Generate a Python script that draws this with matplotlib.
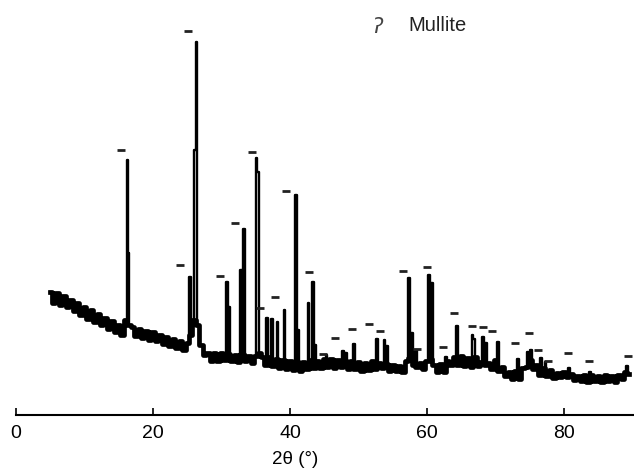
import numpy as np
import matplotlib
matplotlib.use("Agg")
import matplotlib.pyplot as plt

plt.rcParams['font.family'] = ['Liberation Sans', 'DejaVu Sans']

# background scan, 5 to 89.5 deg in 0.5 deg steps (counts)
bg_start = 5.0
bg_step = 0.5
bg_counts = [
    1230, 1120, 1220, 1100, 1190, 1080, 1150, 1040, 1120, 1000,
    1080, 960, 1050, 930, 1010, 900, 970, 860, 940, 830,
    900, 800, 950, 900, 880, 790, 860, 770, 840, 750,
    830, 740, 800, 710, 780, 690, 760, 670, 740, 650,
    720, 800, 950, 900, 700, 600, 620, 540, 620, 540,
    620, 550, 610, 540, 600, 530, 610, 540, 590, 520,
    590, 620, 580, 500, 580, 490, 560, 470, 550, 460,
    540, 450, 530, 440, 530, 460, 550, 470, 540, 470,
    560, 480, 560, 470, 550, 480, 540, 460, 540, 460,
    530, 440, 520, 450, 540, 460, 520, 470, 510, 440,
    500, 440, 490, 430, 540, 570, 500, 480, 520, 460,
    540, 560, 500, 430, 510, 430, 540, 500, 580, 500,
    590, 490, 570, 480, 580, 490, 530, 500, 520, 460,
    550, 440, 480, 390, 430, 360, 440, 360, 470, 480,
    550, 460, 500, 400, 470, 390, 450, 370, 420, 380,
    430, 380, 410, 350, 390, 340, 400, 330, 400, 340,
    390, 330, 400, 340, 390, 330, 400, 360, 430, 410,
]

# reflections (2theta, counts)
peak_pos = [16.3, 16.45, 25.45, 26.1, 26.3, 30.8, 31.0, 32.85, 33.25,
            35.05, 35.35, 36.5, 37.4, 38.1, 39.1, 40.95, 41.2, 42.6, 43.35,
            43.55, 45.4, 47.75, 48.05, 49.45, 52.55, 53.85, 54.1, 57.4,
            57.85, 58.45, 60.35, 60.75, 62.8, 64.45, 66.55, 66.85, 68.15,
            68.5, 70.35, 73.2, 74.6, 75.1, 76.6, 77.3, 80.6, 83.9, 89.2]
peak_counts = [2550, 1620, 1380, 2650, 3730, 1330, 1080, 1450, 1860,
               2570, 2430, 970, 960, 930, 1050, 2200, 850, 1120, 1330,
               700, 600, 640, 620, 710, 760, 750, 690, 1370,
               820, 650, 1400, 1320, 580, 890, 800, 760, 780,
               720, 730, 560, 630, 650, 570, 530, 470, 430, 490]

# mullite markers
mark_pos = [15.28, 23.95, 25.15, 29.8, 32.0, 34.45, 35.6, 37.8, 39.4, 42.8,
            44.8, 46.6, 49.05, 51.5, 53.1, 56.5, 58.5, 60.0, 62.3, 63.9,
            66.6, 68.2, 69.5, 72.8, 74.9, 76.2, 77.7, 80.6, 83.6, 89.3]
mark_counts = [2650, 1500, 3840, 1390, 1920, 2630, 1070, 1180, 2240, 1430,
               610, 770, 860, 910, 840, 1440, 660, 1480, 680, 1020,
               890, 880, 840, 720, 820, 650, 540, 620, 540, 590]

bg_x = bg_start + bg_step * np.arange(len(bg_counts))
x = np.concatenate([bg_x, peak_pos])
y = np.concatenate([bg_counts, peak_counts])
order = np.argsort(x, kind='stable')
x = x[order]
y = y[order]

fig = plt.figure(figsize=(6.34, 4.68), dpi=100)
ax = fig.add_axes([16/634, 53/468, 618/634, 415/468])

# thick noisy background band + thin peaks on top
ax.plot(bg_x, bg_counts, color='black', lw=3.4, drawstyle='steps-mid')
ax.plot(x, y, color='black', lw=1.7, drawstyle='steps-mid')
ax.plot(mark_pos, mark_counts, ls='none', marker='_', ms=6, mew=2, color='#222222')

ax.text(52.7, 3880, '\u0294', fontsize=15, color='#444444', ha='center', va='center',
        style='italic', family=['DejaVu Sans'])
ax.text(57.2, 3900, 'Mullite', fontsize=14.5, color='#222222', ha='left', va='center')

ax.set_xlim(0, 90.2)
ax.set_ylim(0, 4150)
for s in ['top', 'left', 'right']:
    ax.spines[s].set_visible(False)
ax.spines['bottom'].set_linewidth(1.5)
ax.set_yticks([])
ax.set_xticks([0, 20, 40, 60, 80])
ax.tick_params(axis='x', direction='in', length=5, width=1.2, labelsize=14, pad=7)

fig.text(295/634, 1 - 460/468, '2\u03b8 (\u00b0)', fontsize=13.5, ha='center', va='center')

fig.savefig('out.png', dpi=100)
